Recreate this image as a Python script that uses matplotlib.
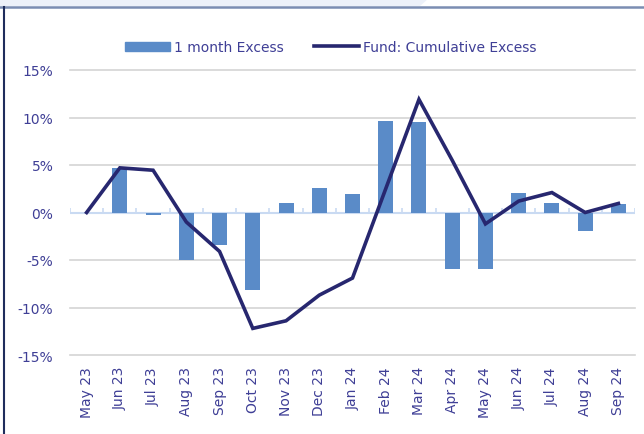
import numpy as np
import matplotlib
matplotlib.use("Agg")
import matplotlib.pyplot as plt
from matplotlib.lines import Line2D
from matplotlib.patches import Rectangle, Polygon
from matplotlib.ticker import FuncFormatter

# Data (in %)
months = ["May 23", "Jun 23", "Jul 23", "Aug 23", "Sep 23", "Oct 23", "Nov 23",
          "Dec 23", "Jan 24", "Feb 24", "Mar 24", "Apr 24", "May 24", "Jun 24",
          "Jul 24", "Aug 24", "Sep 24"]
month_excess = [0.0, 4.7, -0.3, -5.0, -3.4, -8.2, 0.95, 2.6, 2.0, 9.6, 9.5,
                -5.9, -5.9, 2.1, 0.95, -1.9, 0.9]
cum_excess = [0.0, 4.7, 4.45, -1.0, -4.1, -12.2, -11.4, -8.7, -6.9, 2.5, 11.9,
              5.5, -1.2, 1.2, 2.1, 0.0, 0.95]

text_col = "#3f3f96"
bar_col = "#5a8bc8"
line_col = "#27276f"

plt.rcParams["font.family"] = ["DejaVu Sans"]

fig = plt.figure(figsize=(6.44, 4.35), dpi=100)
ax = fig.add_axes([70 / 644, 1 - 356 / 435, 565 / 644, 285 / 435])

x = np.arange(len(months))
ax.bar(x, month_excess, width=0.45, color=bar_col, zorder=2,
       label="1 month Excess")
ax.plot(x, cum_excess, color=line_col, lw=2.6, zorder=3,
        solid_joinstyle="miter", label="Fund: Cumulative Excess")

ax.set_xlim(-0.5, len(months) - 0.5)
ax.set_ylim(-15, 15)
ax.set_yticks(np.arange(-15, 16, 5))
ax.yaxis.set_major_formatter(FuncFormatter(lambda v, p: f"{v:.0f}%"))
ax.set_xticks(x)
ax.set_xticklabels(months, rotation=90)
ax.tick_params(axis="both", length=0, labelsize=10, labelcolor=text_col)
ax.tick_params(axis="x", pad=8)
ax.tick_params(axis="y", pad=12)

for v in np.arange(-15, 16, 5):
    if v != 0:
        ax.axhline(v, color="#d4d4d4", lw=1.2, zorder=0, clip_on=False)
ax.axhline(0, color="#c9daf2", lw=1.5, zorder=1)
ax.vlines(np.arange(len(months) + 1) - 0.5, 0, 0.45, color="#c9daf2",
          lw=1.2, zorder=1)

for s in ax.spines.values():
    s.set_visible(False)

handles = [Rectangle((0, 0), 1, 1, color=bar_col),
           Line2D([], [], color=line_col, lw=2.6)]
leg = fig.legend(handles, ["1 month Excess", "Fund: Cumulative Excess"],
                 loc="center", bbox_to_anchor=(331 / 644, 1 - 48 / 435),
                 ncol=2, frameon=False, fontsize=10, handlelength=3.2,
                 handletextpad=0.3, columnspacing=2.2, handleheight=0.6)
for t in leg.get_texts():
    t.set_color(text_col)

# frame decoration
fig.add_artist(Polygon([(0, 1), (428 / 644, 1), (420 / 644, 1 - 7 / 435),
                        (0, 1 - 7 / 435)], closed=True,
                       transform=fig.transFigure, color="#edf1f9", lw=0))
fig.add_artist(Line2D([0, 1], [1 - 8 / 435] * 2, transform=fig.transFigure,
                      color="#7b8db2", lw=1.8))
fig.add_artist(Line2D([3.5 / 644] * 2, [0, 1 - 8 / 435],
                      transform=fig.transFigure, color="#1f2d5c", lw=1.5))

fig.savefig("out.png", dpi=100)
